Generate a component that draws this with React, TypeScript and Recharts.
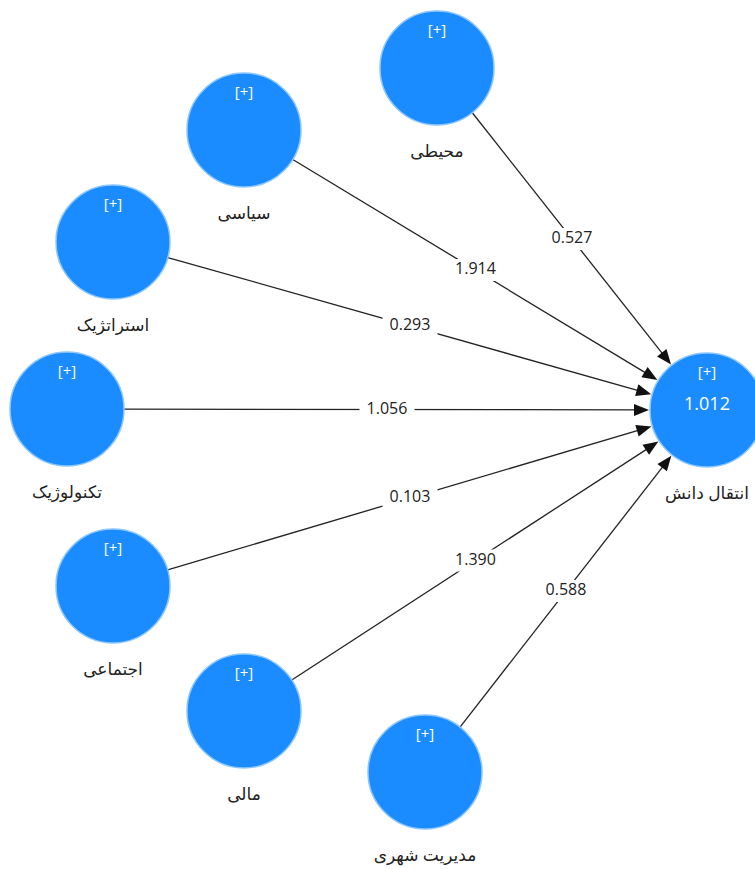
import React from 'react';
import { ScatterChart, Scatter, XAxis, YAxis } from 'recharts';

// source constructs (latent variables) and their diagram positions
const sourceNames = ['محیطی', 'سیاسی', 'استراتژیک', 'تکنولوژیک', 'اجتماعی', 'مالی', 'مدیریت شهری'];
const sourceX = [437, 244, 113, 67, 113, 244, 425];
const sourceY = [68, 130, 242, 409, 586, 711, 772];
// path coefficients, same order as sources
const pathValues = ['0.527', '1.914', '0.293', '1.056', '0.103', '1.390', '0.588'];

// endogenous construct
const targetName = 'انتقال دانش';
const targetX = 707;
const targetY = 410;
const targetValue = '1.012';

const R = 57;
const BLUE = '#1a8cff';
const FONT = '"Segoe UI", "Open Sans", "DejaVu Sans", sans-serif';

const nodes = [
  ...sourceNames.map((name, i) => ({ x: sourceX[i], y: sourceY[i], name, value: '' })),
  { x: targetX, y: targetY, name: targetName, value: targetValue },
];

const edges = sourceNames.map((_, i) => {
  const dx = targetX - sourceX[i];
  const dy = targetY - sourceY[i];
  const len = Math.sqrt(dx * dx + dy * dy);
  const ux = dx / len;
  const uy = dy / len;
  return {
    start: { x: sourceX[i] + ux * R, y: sourceY[i] + uy * R },
    end: { x: targetX - ux * (R + 6), y: targetY - uy * (R + 6) },
    tip: { x: targetX - ux * (R + 1), y: targetY - uy * (R + 1), angle: (Math.atan2(dy, dx) * 180) / Math.PI },
    mid: { x: (sourceX[i] + targetX) / 2, y: (sourceY[i] + targetY) / 2, label: pathValues[i] },
  };
});

const NodeShape = (props: any) => {
  const { cx, cy, payload } = props;
  return (
    <g>
      <circle cx={cx} cy={cy} r={R} fill={BLUE} stroke="#8cc6ff" strokeWidth={1.5} />
      <text x={cx} y={cy - 37} fill="#fff" fontSize={15} textAnchor="middle" dominantBaseline="middle" fontFamily={FONT}>
        [+]
      </text>
      {payload.value && (
        <text x={cx} y={cy - 5} fill="#fff" fontSize={18} textAnchor="middle" dominantBaseline="middle" fontFamily={FONT}>
          {payload.value}
        </text>
      )}
      <text x={cx} y={cy + 84} fill="#222" fontSize={17} textAnchor="middle" dominantBaseline="middle" fontFamily={FONT}>
        {payload.name}
      </text>
    </g>
  );
};

const ArrowShape = (props: any) => {
  const { cx, cy, payload } = props;
  return (
    <polygon
      points="0,0 -15,-6 -15,6"
      fill="#111"
      transform={`translate(${cx},${cy}) rotate(${payload.angle})`}
    />
  );
};

const EdgeLabel = (props: any) => {
  const { cx, cy, payload } = props;
  const w = payload.label.length * 9 + 10;
  return (
    <g>
      <rect x={cx - w / 2} y={cy - 11} width={w} height={22} fill="#fff" />
      <text x={cx} y={cy} fill="#222" fontSize={16} textAnchor="middle" dominantBaseline="middle" fontFamily={FONT}>
        {payload.label}
      </text>
    </g>
  );
};

const Empty = () => <g />;

export default function App() {
  return (
    <div style={{ position: 'absolute', left: 0, top: 0, background: '#fff' }}>
      <ScatterChart width={755} height={869} margin={{ top: 0, right: 0, bottom: 0, left: 0 }}>
        <XAxis type="number" dataKey="x" domain={[0, 755]} hide />
        <YAxis type="number" dataKey="y" domain={[0, 869]} reversed hide />
        {edges.map((e, i) => (
          <Scatter
            key={`edge-${i}`}
            data={[e.start, e.end]}
            line={{ stroke: '#222', strokeWidth: 1.3 }}
            shape={Empty}
            isAnimationActive={false}
          />
        ))}
        <Scatter data={edges.map((e) => e.tip)} shape={ArrowShape} isAnimationActive={false} />
        <Scatter data={edges.map((e) => e.mid)} shape={EdgeLabel} isAnimationActive={false} />
        <Scatter data={nodes} shape={NodeShape} isAnimationActive={false} />
      </ScatterChart>
    </div>
  );
}
